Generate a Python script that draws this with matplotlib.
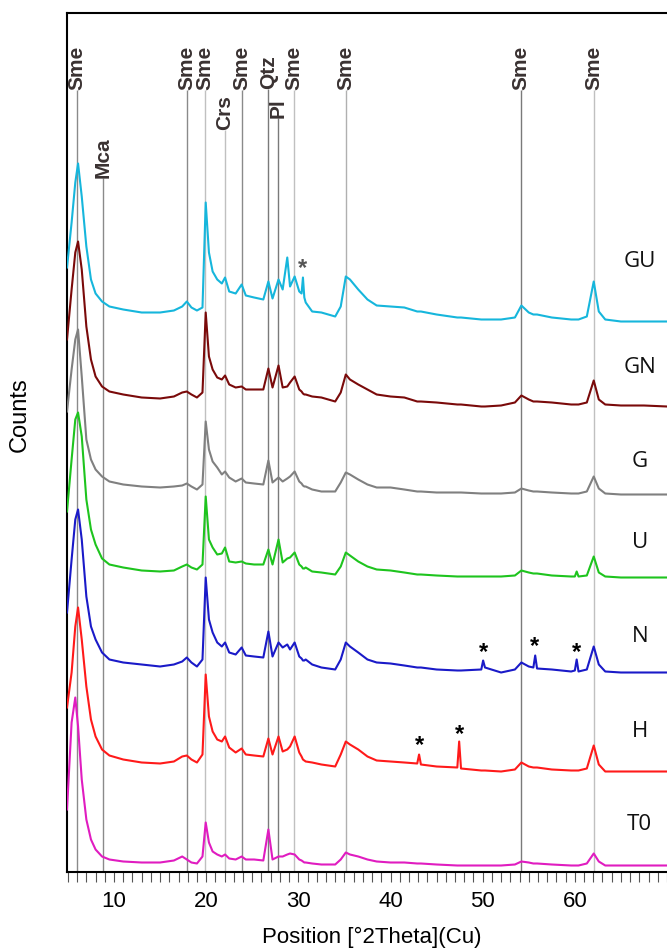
import matplotlib
matplotlib.use("Agg")
import matplotlib.pyplot as plt
from matplotlib.ticker import MultipleLocator

# position in degrees 2-theta (shared grid for every pattern)
two_theta = [4.9, 5.4, 5.8, 6.1, 6.5, 7.0, 7.5, 8.0, 8.7, 9.5, 11.0, 13.0, 15.0, 16.5,
             17.4, 17.9, 18.4, 19.0, 19.6, 19.95, 20.3, 20.7, 21.2, 21.7, 22.05, 22.5,
             23.2, 23.85, 24.3, 25.2, 26.2, 26.75, 27.2, 27.85, 28.3, 28.8, 29.1, 29.6,
             30.1, 30.35, 30.5, 30.65, 30.8, 31.5, 32.5, 34.0, 34.6, 35.15, 35.6, 36.5,
             37.5, 38.5, 40.0, 41.5, 42.9, 43.1, 43.3, 45.0, 47.25, 47.45, 47.65, 49.85,
             50.05, 50.25, 52.0, 53.5, 54.2, 55.0, 55.5, 55.7, 55.9, 57.5, 59.6, 60.0,
             60.2, 60.4, 61.3, 62.05, 62.6, 63.3, 65.0, 67.5, 70.0]

# stacked counts (arbitrary units, already offset)
gu = [604, 649, 689, 708, 675, 625, 592, 578, 570, 565, 562, 559, 559, 561,
      565, 570, 564, 561, 564, 669, 619, 600, 592, 588, 594, 580,
      578, 587, 576, 574, 572, 590, 573, 592, 582, 614, 585, 595,
      580, 578, 594, 574, 569, 560, 559, 555, 565, 595, 592, 582,
      572, 566, 565, 564, 560, 560, 560, 557, 554, 554, 554, 552,
      552, 552, 552, 554, 566, 559, 557, 557, 557, 554, 552, 552,
      552, 552, 555, 590, 560, 552, 550, 550, 550]
gn = [532, 582, 619, 630, 602, 545, 512, 495, 485, 480, 477, 474, 473, 475,
      479, 480, 477, 474, 479, 559, 515, 502, 494, 492, 496, 487,
      484, 485, 482, 482, 482, 503, 484, 506, 484, 485, 489, 495,
      482, 480, 478, 477, 477, 475, 474, 470, 479, 497, 492, 487,
      482, 477, 475, 474, 470, 470, 470, 469, 467, 467, 467, 465,
      465, 465, 466, 469, 476, 472, 470, 470, 470, 469, 467, 467,
      467, 467, 469, 491, 472, 467, 466, 466, 465]
g = [460, 502, 532, 542, 495, 432, 412, 402, 395, 390, 387, 385, 384, 385,
     386, 388, 385, 382, 387, 450, 422, 410, 404, 397, 400, 394,
     390, 393, 389, 388, 387, 411, 389, 394, 390, 393, 395, 400,
     390, 388, 386, 385, 385, 382, 380, 380, 389, 399, 397, 392,
     387, 384, 384, 382, 380, 380, 380, 379, 379, 379, 379, 378,
     378, 378, 378, 379, 383, 381, 380, 380, 380, 379, 378, 378,
     378, 378, 380, 395, 383, 378, 377, 377, 377]
u = [360, 412, 452, 459, 435, 372, 342, 327, 313, 307, 304, 301, 300, 301,
     305, 307, 304, 302, 307, 375, 332, 324, 317, 318, 324, 310,
     309, 310, 308, 307, 307, 322, 307, 332, 309, 313, 314, 319,
     307, 305, 303, 303, 304, 300, 299, 297, 305, 319, 316, 310,
     305, 302, 301, 299, 297, 297, 297, 296, 295, 295, 295, 295,
     295, 295, 295, 296, 301, 299, 298, 298, 298, 296, 295, 295,
     300, 295, 296, 315, 299, 295, 294, 294, 294]
n = [259, 312, 352, 362, 332, 275, 245, 232, 219, 212, 209, 207, 205, 207,
     210, 214, 209, 205, 212, 294, 252, 239, 229, 225, 229, 219,
     217, 224, 216, 215, 214, 240, 215, 229, 224, 227, 222, 229,
     215, 213, 211, 211, 212, 207, 204, 202, 212, 229, 225, 219,
     212, 209, 208, 206, 204, 204, 204, 202, 201, 201, 201, 202,
     211, 204, 199, 202, 209, 205, 204, 216, 203, 202, 200, 201,
     212, 200, 202, 225, 207, 200, 199, 199, 199]
h = [164, 199, 245, 264, 232, 185, 152, 135, 122, 116, 112, 109, 108, 110,
     115, 116, 112, 109, 117, 197, 155, 140, 132, 130, 135, 124,
     119, 123, 117, 116, 115, 133, 117, 135, 120, 122, 125, 135,
     119, 115, 112, 111, 110, 109, 107, 105, 117, 130, 127, 122,
     115, 111, 110, 109, 108, 117, 107, 105, 104, 130, 103, 101,
     101, 101, 100, 102, 109, 105, 104, 104, 104, 102, 101, 101,
     101, 101, 103, 126, 107, 100, 100, 100, 100]
t0 = [62, 149, 174, 145, 92, 52, 32, 22, 15, 12, 10, 9, 9, 11,
      15, 12, 9, 8, 15, 49, 29, 20, 17, 15, 17, 13,
      12, 15, 12, 12, 11, 42, 12, 15, 15, 17, 18, 17,
      12, 11, 10, 9, 9, 8, 7, 7, 12, 19, 17, 15,
      12, 10, 9, 9, 8, 8, 8, 7, 6, 6, 6, 6,
      6, 6, 6, 7, 10, 9, 8, 8, 8, 7, 6, 6,
      6, 6, 8, 18, 10, 6, 6, 6, 6]

samples = ["GU", "GN", "G", "U", "N", "H", "T0"]
patterns = [gu, gn, g, u, n, h, t0]
colors = ["#16b6dc", "#7a0a0a", "#808080", "#1ec41e", "#1a1ac8", "#ff1a1a", "#e01cc0"]
label_level = [610, 504, 410, 329, 235, 140, 47]

# phase reference lines
phases = ["Sme", "Mca", "Sme", "Sme", "Crs", "Sme", "Qtz", "Pl", "Sme", "Sme", "Sme", "Sme"]
phase_pos = [6.02, 8.84, 17.88, 19.84, 22.04, 23.85, 26.74, 27.82, 29.56, 35.13, 54.17, 62.09]
phase_top = [782, 694, 782, 782, 742, 782, 783, 754, 782, 782, 782, 782]
phase_col = ["#8a8a8a", "#8a8a8a", "#8a8a8a", "#c0c0c0", "#c0c0c0", "#8a8a8a",
             "#7a7a7a", "#7a7a7a", "#c0c0c0", "#b0b0b0", "#7a7a7a", "#c0c0c0"]

# unidentified reflections
star_x = [30.45, 50.05, 55.6, 60.2, 43.1, 47.45]
star_y = [603, 219, 225, 219, 126, 137]
star_col = ["#555555", "black", "black", "black", "black", "black"]

fig = plt.figure(figsize=(6.67, 9.49), dpi=100)
ax = fig.add_axes([67 / 667, 77.5 / 949, 600 / 667, 858.2 / 949])

ax.vlines(phase_pos, 0, phase_top, colors=phase_col, lw=1.0, zorder=1)
for name, x, top in zip(phases, phase_pos, phase_top):
    ax.text(x, top, name, rotation=90, ha="center", va="bottom", fontsize=15,
            fontweight="bold", color="#3a3232", family="Liberation Sans")

for name, ys, c, lv in zip(samples, patterns, colors, label_level):
    ax.plot(two_theta, ys, color=c, lw=1.5, zorder=3)
    ax.text(67.05, lv, name, ha="center", va="center", fontsize=16,
            color="#111111", family="Open Sans")

for x, y, c in zip(star_x, star_y, star_col):
    ax.text(x, y, "*", ha="center", va="center", fontsize=17, fontweight="bold",
            color=c, family="Liberation Sans")

ax.set_xlim(4.9, 70)
ax.set_ylim(0, 858.2)
ax.set_xticks([10, 20, 30, 40, 50, 60])
ax.xaxis.set_minor_locator(MultipleLocator(1))
ax.set_yticks([])
ax.tick_params(axis="x", which="both", direction="out", length=7, width=0.8,
               color="#555555", labelsize=16, pad=7)
for lab in ax.get_xticklabels():
    lab.set_family("Liberation Sans")
for side in ["left", "top", "bottom"]:
    ax.spines[side].set_linewidth(1.5)
ax.spines["right"].set_visible(False)

fig.text(372 / 667, 1 - 937 / 949, "Position [°2Theta](Cu)", ha="center", va="center",
         fontsize=16, family="Liberation Sans")
fig.text(20 / 667, 1 - 415 / 949, "Counts", rotation=90, ha="center", va="center",
         fontsize=17, family="Liberation Sans")

fig.savefig("out.png", dpi=100)
